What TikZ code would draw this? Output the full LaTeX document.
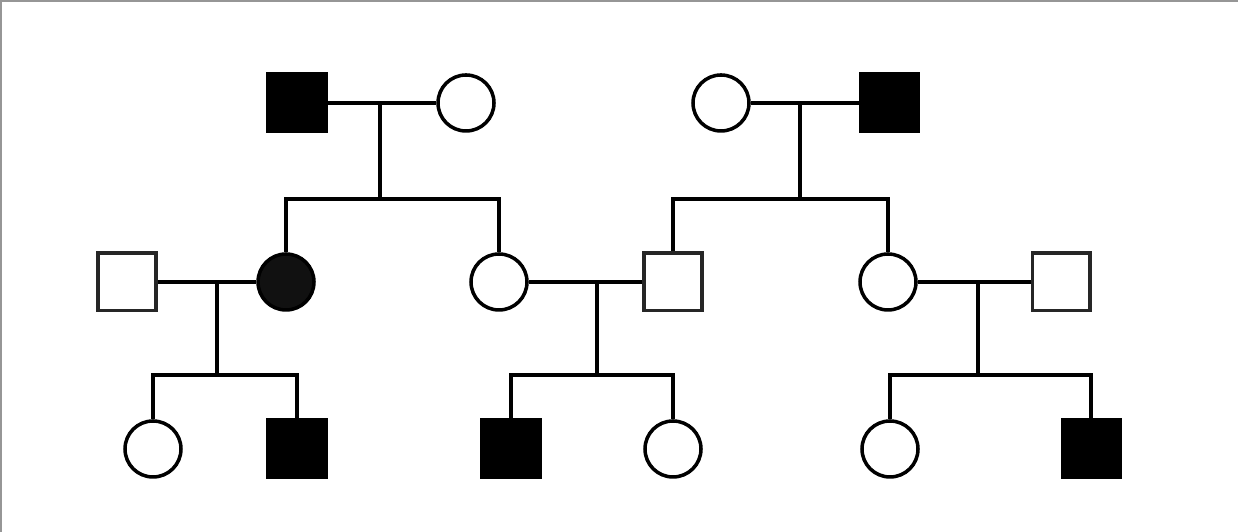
\documentclass[tikz,border=0pt]{standalone}
\usepackage{tikz}
\usepackage{xcolor}
\usetikzlibrary{positioning,calc}
\definecolor{framegray}{RGB}{150,150,150}
\definecolor{inkgray}{RGB}{17,17,17}

\begin{document}
\begin{tikzpicture}[line width=1pt,
  male/.style={draw, rectangle, minimum size=0.575cm, inner sep=0pt},
  female/.style={draw, circle, minimum size=0.56cm, inner sep=0pt},
  open/.style={draw=black!85, fill=white},
  hit/.style={fill=black}]
  \useasboundingbox (0,0) rectangle (12.38,5.32);
  \draw[framegray, line width=0.6pt] (0.01,0) -- (0.01,5.31) -- (12.38,5.31);

  % first generation
  \node[male, hit] (gpA) at (2.97,4.29) {};
  \node[female] (gmA) at (4.66,4.29) {};
  \node[female] (gmB) at (7.21,4.29) {};
  \node[male, hit] (gpB) at (8.89,4.29) {};

  % second generation
  \node[male, open] (husA) at (1.27,2.50) {};
  \node[female, fill=inkgray] (dauA) at (2.86,2.50) {};
  \node[female] (dauB) at (4.99,2.50) {};
  \node[male, open] (sonB) at (6.73,2.50) {};
  \node[female] (dauC) at (8.88,2.50) {};
  \node[male, open] (husC) at (10.61,2.50) {};

  % third generation
  \node[female] (kidA1) at (1.53,0.83) {};
  \node[male, hit] (kidA2) at (2.97,0.83) {};
  \node[male, hit] (kidB1) at (5.11,0.83) {};
  \node[female] (kidB2) at (6.73,0.83) {};
  \node[female] (kidC1) at (8.90,0.83) {};
  \node[male, hit] (kidC2) at (10.91,0.83) {};

  % marriage and sibship points
  \coordinate (mateA) at (3.80,4.29);
  \coordinate (sibA) at (3.80,3.33);
  \coordinate (mateB) at (8.00,4.29);
  \coordinate (sibB) at (8.00,3.33);
  \coordinate (mateC) at (2.17,2.50);
  \coordinate (sibC) at (2.17,1.57);
  \coordinate (mateD) at (5.97,2.50);
  \coordinate (sibD) at (5.97,1.57);
  \coordinate (mateE) at (9.78,2.50);
  \coordinate (sibE) at (9.78,1.57);

  \draw (gpA) -- (gmA);
  \draw (mateA) -- (sibA);
  \draw (dauA) |- (sibA) -| (dauB);

  \draw (gmB) -- (gpB);
  \draw (mateB) -- (sibB);
  \draw (sonB) |- (sibB) -| (dauC);

  \draw (husA) -- (dauA);
  \draw (mateC) -- (sibC);
  \draw (kidA1) |- (sibC) -| (kidA2);

  \draw (dauB) -- (sonB);
  \draw (mateD) -- (sibD);
  \draw (kidB1) |- (sibD) -| (kidB2);

  \draw (dauC) -- (husC);
  \draw (mateE) -- (sibE);
  \draw (kidC1) |- (sibE) -| (kidC2);
\end{tikzpicture}
\end{document}
